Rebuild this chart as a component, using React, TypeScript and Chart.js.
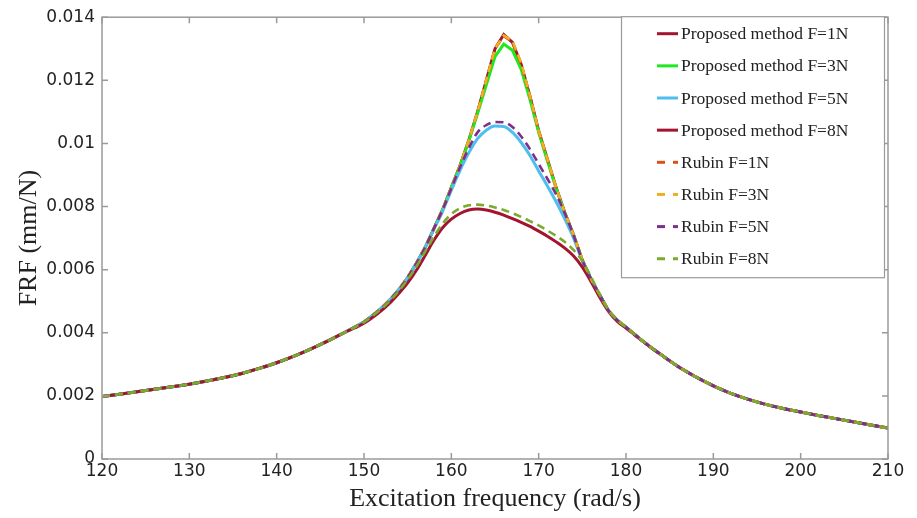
import React, { useEffect, useRef } from "react";
import { Chart, registerables } from "chart.js";

Chart.register(...registerables);

// Excitation frequency samples (rad/s)
const FREQ = [
  120, 122, 124, 126, 128, 130, 132, 134, 136, 138, 140, 142, 144, 146, 148,
  149, 150, 151, 152, 153, 154, 155, 156, 157, 158, 159, 160, 161, 162, 163, 164, 165, 166, 167, 168,
  169, 170, 171, 172, 173, 174, 175, 176, 177, 178, 179, 180, 181, 182, 183, 184, 185,
  186, 188, 190, 192, 194, 196, 198, 200, 202, 204, 206, 208, 210,
];

// shared low-frequency tail (120..148)
const LOW_TAIL = [0.00198, 0.00205, 0.00213, 0.00221, 0.00229, 0.00237, 0.00247, 0.00258, 0.00271, 0.00287, 0.00305, 0.00326, 0.0035, 0.00376, 0.00404];
// shared high-frequency tail (186..210)
const HIGH_TAIL = [0.00292, 0.0026, 0.00232, 0.00208, 0.00189, 0.00173, 0.0016, 0.00149, 0.00138, 0.00128, 0.00118, 0.00108, 0.00098];

// resonance region (149..185)
const PROPOSED_F1 = [
  0.00419, 0.00434, 0.00455, 0.00478, 0.00505, 0.00537, 0.00575, 0.0062, 0.0067, 0.0073,
  0.0079, 0.0086, 0.0093, 0.0101, 0.011, 0.012, 0.013, 0.01345, 0.0132, 0.0125,
  0.0115, 0.0104, 0.0095, 0.0086, 0.0078, 0.0071, 0.0063, 0.0057, 0.0052, 0.0047,
  0.0044, 0.00418, 0.00395, 0.00372, 0.00351, 0.00331, 0.00311,
];
const PROPOSED_F3 = [
  0.00419, 0.00434, 0.00455, 0.00478, 0.00505, 0.00537, 0.00575, 0.0062, 0.0067, 0.0073,
  0.0079, 0.0086, 0.0093, 0.01008, 0.01095, 0.01185, 0.01275, 0.01315, 0.01295, 0.01235,
  0.0114, 0.01035, 0.00945, 0.00858, 0.0078, 0.0071, 0.0063, 0.0057, 0.0052, 0.0047,
  0.0044, 0.00418, 0.00395, 0.00372, 0.00351, 0.00331, 0.00311,
];
const PROPOSED_F5 = [
  0.00419, 0.00434, 0.00455, 0.00478, 0.00505, 0.00537, 0.00575, 0.0062, 0.0067, 0.00728,
  0.00785, 0.00852, 0.00915, 0.0097, 0.01015, 0.01042, 0.01055, 0.01054, 0.01035, 0.01003,
  0.00962, 0.00913, 0.00865, 0.00815, 0.0076, 0.007, 0.00628, 0.0057, 0.0052, 0.0047,
  0.0044, 0.00418, 0.00395, 0.00372, 0.00351, 0.00331, 0.00311,
];
const PROPOSED_F8 = [
  0.00416, 0.0043, 0.00449, 0.0047, 0.00495, 0.00525, 0.00558, 0.00598, 0.00645, 0.00693,
  0.00733, 0.0076, 0.00778, 0.00789, 0.00792, 0.00789, 0.00782, 0.00773, 0.00762, 0.0075,
  0.00737, 0.00722, 0.00706, 0.00688, 0.00668, 0.00643, 0.00608, 0.00562, 0.00512, 0.00468,
  0.00436, 0.00415, 0.00393, 0.00371, 0.0035, 0.00331, 0.00311,
];
const RUBIN_F1 = [
  0.00419, 0.00434, 0.00455, 0.00478, 0.00505, 0.00537, 0.00575, 0.0062, 0.0067, 0.0073,
  0.0079, 0.0086, 0.0093, 0.0101, 0.011, 0.012, 0.013, 0.0134, 0.01322, 0.0125,
  0.0115, 0.0104, 0.0095, 0.0086, 0.0078, 0.0071, 0.0063, 0.0057, 0.0052, 0.0047,
  0.0044, 0.00418, 0.00395, 0.00372, 0.00351, 0.00331, 0.00311,
];
const RUBIN_F3 = [
  0.00419, 0.00434, 0.00455, 0.00478, 0.00505, 0.00537, 0.00575, 0.0062, 0.0067, 0.0073,
  0.0079, 0.0086, 0.0093, 0.0101, 0.011, 0.012, 0.013, 0.01342, 0.01325, 0.01255,
  0.0115, 0.0104, 0.0095, 0.0086, 0.0078, 0.0071, 0.0063, 0.0057, 0.0052, 0.0047,
  0.0044, 0.00418, 0.00395, 0.00372, 0.00351, 0.00331, 0.00311,
];
const RUBIN_F5 = [
  0.00419, 0.00434, 0.00455, 0.00478, 0.00505, 0.00537, 0.00575, 0.0062, 0.0067, 0.0073,
  0.0079, 0.00858, 0.00925, 0.00985, 0.01035, 0.01058, 0.01068, 0.01067, 0.01052, 0.01022,
  0.00982, 0.00935, 0.00888, 0.00838, 0.00778, 0.00708, 0.0063, 0.0057, 0.0052, 0.0047,
  0.0044, 0.00418, 0.00395, 0.00372, 0.00351, 0.00331, 0.00311,
];
const RUBIN_F8 = [
  0.00419, 0.00434, 0.00454, 0.00476, 0.00502, 0.00533, 0.00569, 0.0061, 0.00657, 0.00704,
  0.00746, 0.00776, 0.00795, 0.00804, 0.00806, 0.00803, 0.00797, 0.00789, 0.00779, 0.00767,
  0.00754, 0.0074, 0.00724, 0.00707, 0.00688, 0.00662, 0.00628, 0.00577, 0.0052, 0.00472,
  0.0044, 0.00418, 0.00395, 0.00372, 0.00351, 0.00331, 0.00311,
];

const SERIES = [PROPOSED_F1, PROPOSED_F3, PROPOSED_F5, PROPOSED_F8, RUBIN_F1, RUBIN_F3, RUBIN_F5, RUBIN_F8];
const LABELS = [
  "Proposed method F=1N",
  "Proposed method F=3N",
  "Proposed method F=5N",
  "Proposed method F=8N",
  "Rubin F=1N",
  "Rubin F=3N",
  "Rubin F=5N",
  "Rubin F=8N",
];
const COLORS = ["#A2142F", "#1EE81E", "#4DBEEE", "#A2142F", "#D95319", "#EDB120", "#7E2F8E", "#77AC30"];
const DASHED = [false, false, false, false, true, true, true, true];
// sharp-peaked responses are drawn as plain polylines, flat-topped ones smoothed
const SMOOTH = [false, false, true, true, false, false, true, true];

const X_TICKS = [120, 130, 140, 150, 160, 170, 180, 190, 200, 210];
const Y_TICKS = [0, 0.002, 0.004, 0.006, 0.008, 0.01, 0.012, 0.014];
const Y_TICK_LABELS = ["0", "0.002", "0.004", "0.006", "0.008", "0.01", "0.012", "0.014"];

const X_TITLE = "Excitation frequency (rad/s)";
const Y_TITLE = "FRF (mm/N)";

const buildSeries = (core: number[]) =>
  [...LOW_TAIL, ...core, ...HIGH_TAIL].map((y, i) => ({ x: FREQ[i], y }));

const FRAME_COLOR = "#9a9a9a";
const TEXT_COLOR = "#222222";

const frameLegendPlugin = {
  id: "frameLegend",
  afterDatasetsDraw(chart: any) {
    const { ctx, chartArea } = chart;
    const { left, right, top, bottom } = chartArea;
    const xs = chart.scales.x;
    const ys = chart.scales.y;
    ctx.save();
    ctx.strokeStyle = FRAME_COLOR;
    ctx.lineWidth = 1.5;
    ctx.setLineDash([]);
    ctx.strokeRect(left, top, right - left, bottom - top);
    const tl = 6;
    ctx.beginPath();
    X_TICKS.forEach((v) => {
      const px = xs.getPixelForValue(v);
      ctx.moveTo(px, bottom);
      ctx.lineTo(px, bottom - tl);
      ctx.moveTo(px, top);
      ctx.lineTo(px, top + tl);
    });
    Y_TICKS.forEach((v) => {
      const py = ys.getPixelForValue(v);
      ctx.moveTo(left, py);
      ctx.lineTo(left + tl, py);
      ctx.moveTo(right, py);
      ctx.lineTo(right - tl, py);
    });
    ctx.stroke();
    ctx.restore();
  },
  afterDraw(chart: any) {
    const { ctx, chartArea } = chart;
    const bx = chartArea.right - 267;
    const by = chartArea.top - 1;
    const bw = 263;
    const bh = 261;
    ctx.save();
    ctx.fillStyle = "#ffffff";
    ctx.fillRect(bx, by, bw, bh);
    ctx.strokeStyle = FRAME_COLOR;
    ctx.lineWidth = 1.2;
    ctx.strokeRect(bx + 0.5, by + 0.5, bw, bh);
    LABELS.forEach((label, i) => {
      const y = by + 17.5 + i * 32.15;
      ctx.beginPath();
      ctx.setLineDash(DASHED[i] ? [8, 8] : []);
      ctx.strokeStyle = COLORS[i];
      ctx.lineWidth = 3;
      ctx.moveTo(bx + 36, y);
      ctx.lineTo(bx + 57, y);
      ctx.stroke();
      ctx.setLineDash([]);
      ctx.fillStyle = TEXT_COLOR;
      ctx.font = '17.5px "Liberation Serif"';
      ctx.textBaseline = "middle";
      ctx.textAlign = "left";
      ctx.fillText(label, bx + 60, y + 1);
    });
    ctx.restore();
  },
};

export default function App() {
  const ref = useRef<HTMLCanvasElement>(null);

  useEffect(() => {
    const canvas = ref.current;
    if (!canvas) return;
    const tickFont = { family: '"DejaVu Sans", sans-serif', size: 17 };
    const titleFont = { family: '"Liberation Serif", serif', size: 26 };
    const chart = new Chart(canvas, {
      type: "line",
      data: {
        datasets: SERIES.map((s, i) => ({
          label: LABELS[i],
          data: buildSeries(s),
          borderColor: COLORS[i],
          backgroundColor: COLORS[i],
          borderWidth: DASHED[i] ? 2.6 : 3,
          borderDash: DASHED[i] ? [8, 5] : [],
          pointRadius: 0,
          tension: 0,
          cubicInterpolationMode: SMOOTH[i] ? "monotone" : "default",
          fill: false,
          order: SERIES.length - i,
        })),
      },
      options: {
        animation: false,
        responsive: false,
        devicePixelRatio: 1,
        layout: { padding: { left: 0, right: 29, top: 13, bottom: 0 } },
        plugins: { legend: { display: false }, tooltip: { enabled: false } },
        scales: {
          x: {
            type: "linear",
            min: 120,
            max: 210,
            afterBuildTicks: (axis: any) => {
              axis.ticks = X_TICKS.map((v) => ({ value: v }));
            },
            afterFit: (scale: any) => {
              scale.height = 59;
            },
            grid: { display: false, drawTicks: false },
            border: { display: false },
            ticks: {
              font: tickFont,
              color: TEXT_COLOR,
              padding: 2,
              maxRotation: 0,
              autoSkip: false,
              callback: (v: any) => String(v),
            },
            title: {
              display: true,
              text: X_TITLE,
              font: titleFont,
              color: TEXT_COLOR,
              padding: { top: 0, bottom: 3 },
            },
          },
          y: {
            type: "linear",
            min: 0,
            max: 0.014,
            afterBuildTicks: (axis: any) => {
              axis.ticks = Y_TICKS.map((v) => ({ value: v }));
            },
            afterFit: (scale: any) => {
              scale.width = 102;
            },
            grid: { display: false, drawTicks: false },
            border: { display: false },
            ticks: {
              font: tickFont,
              color: TEXT_COLOR,
              padding: 7,
              autoSkip: false,
              callback: (_v: any, idx: number) => Y_TICK_LABELS[idx],
            },
            title: {
              display: true,
              text: Y_TITLE,
              font: titleFont,
              color: TEXT_COLOR,
              padding: { top: 14, bottom: 0 },
            },
          },
        },
      },
      plugins: [frameLegendPlugin],
    } as any);
    return () => chart.destroy();
  }, []);

  return (
    <div style={{ position: "absolute", left: 0, top: 0, width: 917, height: 518, background: "#ffffff" }}>
      <canvas ref={ref} width={917} height={518} style={{ display: "block" }} />
    </div>
  );
}
